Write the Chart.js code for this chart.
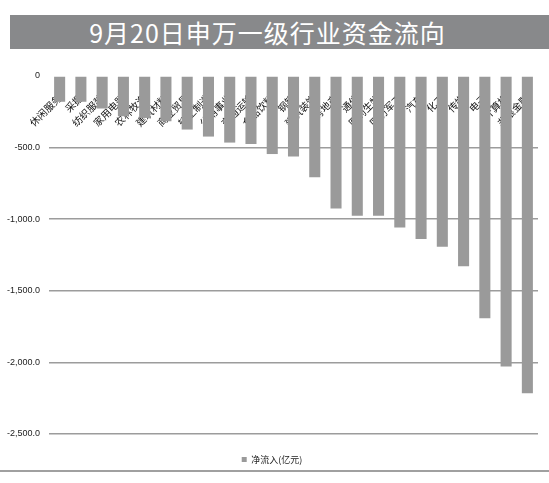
<!DOCTYPE html>
<html>
<head>
<meta charset="utf-8">
<script src="https://cdn.jsdelivr.net/npm/chart.js@4/dist/chart.umd.min.js"></script>
<style>
  html, body { margin: 0; padding: 0; background: #fff; }
  body { width: 549px; height: 483px; position: relative; overflow: hidden; font-family: "Noto Sans CJK SC", sans-serif; }
  #title {
    position: absolute; left: 10px; top: 15px; width: 539px; height: 34px;
    background: #88898b; color: #fff; font-size: 25px; line-height: 34px;
    text-align: center; letter-spacing: 1px; text-indent: -24px;
  }
  #wrap { position: absolute; left: 0; top: 52px; width: 549px; height: 431px; }
  #frame { position: absolute; left: 0; top: 470px; width: 549px; height: 2px; background: #a0a0a0; }
</style>
</head>
<body>
<div id="title">9月20日申万一级行业资金流向</div>
<div id="wrap"><canvas id="c"></canvas></div>
<div id="frame"></div>
<script>
// 行业（申万一级）
const industries = [
  '休闲服务', '采掘', '纺织服装', '家用电器', '农林牧渔', '建筑材料',
  '商业贸易', '轻工制造', '公用事业', '交通运输', '食品饮料', '钢铁',
  '建筑装饰', '房地产', '通信', '医药生物', '国防军工', '汽车',
  '化工', '传媒', '电子', '计算机', '非银金融'
];
// 净流入(亿元)
const netInflow = [
  -180, -180, -227, -281, -293, -316,
  -374, -423, -465, -475, -545, -562,
  -707, -925, -976, -976, -1058, -1139,
  -1193, -1329, -1692, -2029, -2216
];
const yTicks = [0, -500, -1000, -1500, -2000, -2500];

const ctx = document.getElementById('c').getContext('2d');
new Chart(ctx, {
  type: 'bar',
  data: {
    labels: industries,
    datasets: [{
      label: '净流入(亿元)',
      data: netInflow,
      backgroundColor: '#9a9a9a',
      borderWidth: 0,
      barPercentage: 0.52,
      categoryPercentage: 1
    }]
  },
  options: {
    responsive: true,
    maintainAspectRatio: false,
    animation: false,
    layout: { padding: { left: 6, right: 11, top: 24, bottom: 9 } },
    plugins: {
      title: { display: false },
      tooltip: { enabled: false },
      legend: {
        position: 'bottom',
        labels: {
          boxWidth: 5, boxHeight: 5, color: '#222', padding: 21,
          font: { size: 9, family: 'Noto Sans CJK SC' }
        }
      }
    },
    scales: {
      x: {
        position: { y: 0 },
        grid: { display: false },
        border: { display: false },
        ticks: {
          minRotation: 45, maxRotation: 45, autoSkip: false, padding: 8,
          color: '#111', font: { size: 10, family: 'Noto Sans CJK SC' }
        }
      },
      y: {
        min: -2500, max: 0,
        afterBuildTicks: (axis) => { axis.ticks = yTicks.map(v => ({ value: v })); },
        afterFit: (axis) => { axis.width = 43; },
        grid: {
          color: (c) => c.tick && c.tick.value === 0 ? 'rgba(0,0,0,0)' : '#9c9c9c',
          lineWidth: 1.5, drawTicks: false
        },
        border: { display: false },
        ticks: {
          padding: 9, color: '#222',
          font: { size: 9, family: 'Liberation Sans' },
          callback: (v) => v === 0 ? '0' : v.toLocaleString('en-US', { minimumFractionDigits: 1, maximumFractionDigits: 1 })
        }
      }
    }
  }
});
</script>
</body>
</html>
